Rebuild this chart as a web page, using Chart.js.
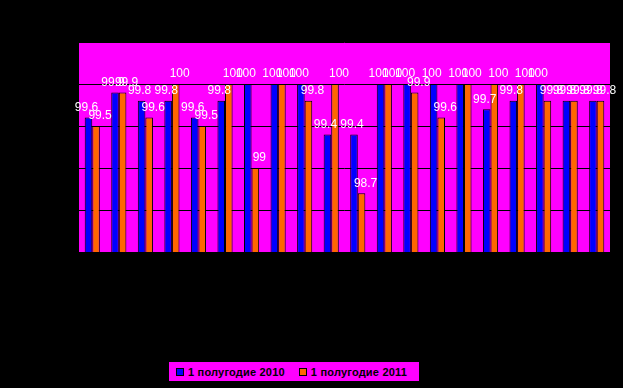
<!DOCTYPE html>
<html>
<head>
<meta charset="utf-8">
<script src="https://cdn.jsdelivr.net/npm/chart.js@4.4.0/dist/chart.umd.min.js"></script>
<style>
	html, body { margin: 0; padding: 0; background: #000; }
	#wrap { position: relative; width: 623px; height: 388px; background: #000; }
	#legend {
		position: absolute; left: 169px; top: 362px; width: 250px; height: 19px;
		background: #ff00ff; font: bold 11px "Liberation Sans", Arial, sans-serif; color: #000;
		display: flex; align-items: center; white-space: nowrap;
	}
	.item { display: flex; align-items: center; flex: none; margin-left: 7px; margin-right: 7px; letter-spacing: 0.2px; }
	.box { width: 6px; height: 6px; border: 1px solid #000; margin-right: 4px; }
</style>
</head>
<body>
<div id="wrap">
	<canvas id="myChart" width="623" height="388"></canvas>
	<div id="legend"></div>
</div>
<script>
// DATA
let categories = ["1", "2", "3", "4", "5", "6", "7", "8", "9", "10",
	"11", "12", "13", "14", "15", "16", "17", "18", "19", "20"];
let seriesNames = ["1 полугодие 2010", "1 полугодие 2011"];
let values2010 = [99.6, 99.9, 99.8, 99.8, 99.6, 99.8, 100, 100, 100, 99.4,
	99.4, 100, 100, 100, 100, 99.7, 99.8, 100, 99.8, 99.8];
let values2011 = [99.5, 99.9, 99.6, 100, 99.5, 100, 99, 100, 99.8, 100,
	98.7, 100, 99.9, 99.6, 100, 100, 100, 99.8, 99.8, 99.8];
let yTicks = [98, 98.5, 99, 99.5, 100, 100.5];
let colors = ["#0000ff", "#ff6600"];

// MAGENTA PLOT AREA + BLACK PAGE
const bgPlugin = {
	id: "bg",
	beforeDraw(chart) {
		const c = chart.ctx, a = chart.chartArea;
		c.save();
		c.fillStyle = "#000";
		c.fillRect(0, 0, chart.width, chart.height);
		c.fillStyle = "#ff00ff";
		c.fillRect(a.left, a.top, a.right - a.left, a.bottom - a.top);
		c.restore();
	}
};

// VALUE LABELS ABOVE EACH BAR
const labelPlugin = {
	id: "labels",
	afterDatasetsDraw(chart) {
		const c = chart.ctx;
		c.save();
		c.font = "12px 'Liberation Sans', Arial, sans-serif";
		c.textAlign = "center";
		c.textBaseline = "middle";
		c.fillStyle = "#ffffff";
		chart.data.datasets.forEach(function (ds, i) {
			chart.getDatasetMeta(i).data.forEach(function (el, j) {
				let v = ds.data[j];
				let txt = Number.isInteger(v) ? String(v) : v.toFixed(1);
				let dx = i == 0 ? -2 : 4;
				c.fillText(txt, el.x + dx, el.y - 10);
			});
		});
		c.restore();
	}
};

const ctx = document.getElementById("myChart").getContext("2d");
const myChart = new Chart(ctx, {
	type: "bar",
	data: {
		labels: categories,
		datasets: [
			{ label: seriesNames[0], data: values2010, backgroundColor: colors[0], borderColor: "#000", borderWidth: 1 },
			{ label: seriesNames[1], data: values2011, backgroundColor: colors[1], borderColor: "#000", borderWidth: 1 },
		],
	},
	options: {
		responsive: false,
		animation: false,
		devicePixelRatio: 1,
		layout: { padding: { left: 79, right: 13, top: 42, bottom: 136 } },
		datasets: { bar: { categoryPercentage: 0.57, barPercentage: 1 } },
		plugins: { legend: { display: false }, tooltip: { enabled: false } },
		scales: {
			x: { display: false },
			y: {
				min: yTicks[0],
				max: yTicks[yTicks.length - 1],
				afterBuildTicks(scale) { scale.ticks = yTicks.map(v => ({ value: v })); },
				ticks: { display: false },
				grid: { color: "#000", lineWidth: 1, drawTicks: false },
				border: { display: false },
			},
		},
	},
	plugins: [bgPlugin, labelPlugin],
});

// HTML LEGEND
let legend = document.getElementById("legend");
seriesNames.forEach(function (name, i) {
	let item = document.createElement("span");
	item.className = "item";
	item.innerHTML = '<span class="box" style="background:' + colors[i] + '"></span>' + name;
	legend.appendChild(item);
});
</script>
</body>
</html>
